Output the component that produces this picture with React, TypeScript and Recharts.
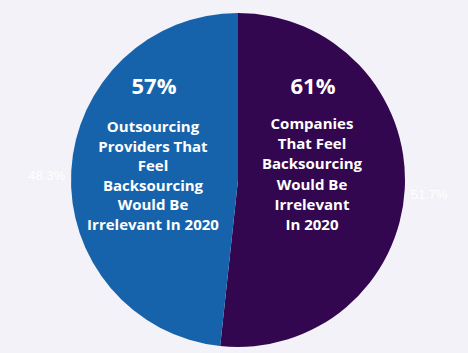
import { PieChart, Pie, Cell } from "recharts";

document.body.style.margin = "0";

const sliceNames = ["Companies", "Outsourcing Providers"];
const sliceValues = [51.7, 48.3];
const sliceColors = ["#33074f", "#1763ab"];

const headline = ["61%", "57%"];
const captionRight = ["Companies", "That Feel", "Backsourcing", "Would Be", "Irrelevant", "In 2020"];
const captionLeft = ["Outsourcing", "Providers That", "Feel", "Backsourcing", "Would Be", "Irrelevant In 2020"];

const data = sliceNames.map((name, i) => ({ name, value: sliceValues[i] }));

const RADIAN = Math.PI / 180;

const renderLabel = (props: any) => {
  const { cx, cy, midAngle, outerRadius, value } = props;
  const r = outerRadius + 6;
  const cos = Math.cos(-midAngle * RADIAN);
  const x = cx + r * cos;
  const y = cy + r * Math.sin(-midAngle * RADIAN) + 5;
  return (
    <text
      x={x}
      y={y}
      fill="#ffffff"
      fontSize={13}
      fontFamily="Arial, Liberation Sans, sans-serif"
      textAnchor={cos >= 0 ? "start" : "end"}
      dominantBaseline="central"
    >
      {`${value}%`}
    </text>
  );
};

const textStyle: React.CSSProperties = {
  position: "absolute",
  width: 170,
  textAlign: "center",
  color: "#ffffff",
  fontFamily: "'Open Sans', sans-serif",
  fontWeight: 700,
};

export default function App() {
  return (
    <div style={{ position: "relative", width: 468, height: 353, background: "#f3f2f8", overflow: "hidden" }}>
      <PieChart width={468} height={353}>
        <Pie
          data={data}
          dataKey="value"
          cx={233}
          cy={175}
          outerRadius={167}
          startAngle={90}
          endAngle={-270}
          stroke="none"
          label={renderLabel}
          labelLine={false}
          isAnimationActive={false}
        >
          {data.map((d, i) => (
            <Cell key={d.name} fill={sliceColors[i]} />
          ))}
        </Pie>
      </PieChart>
      <div style={{ ...textStyle, left: 313 - 85, top: 70, fontSize: 22 }}>{headline[0]}</div>
      <div style={{ ...textStyle, left: 154 - 85, top: 70, fontSize: 22 }}>{headline[1]}</div>
      <div style={{ ...textStyle, left: 312 - 85, top: 113, fontSize: 15, lineHeight: "20.2px" }}>
        {captionRight.map((t) => (
          <div key={t}>{t}</div>
        ))}
      </div>
      <div style={{ ...textStyle, left: 153 - 85, top: 117, fontSize: 15, lineHeight: "19.6px" }}>
        {captionLeft.map((t) => (
          <div key={t}>{t}</div>
        ))}
      </div>
    </div>
  );
}
